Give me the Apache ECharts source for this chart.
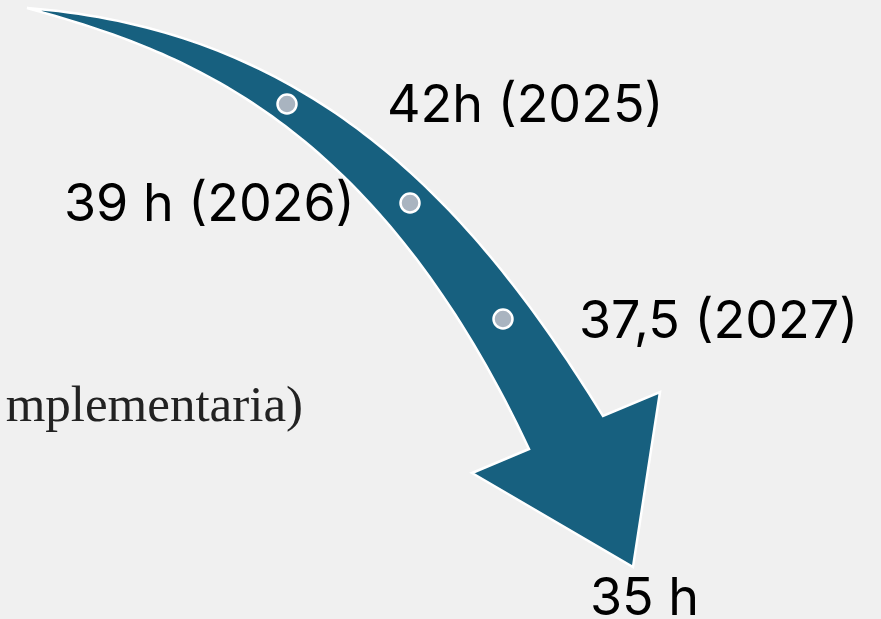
<!DOCTYPE html>
<html>
<head>
<meta charset="utf-8">
<script src="https://cdn.jsdelivr.net/npm/echarts@6/dist/echarts.min.js"></script>
<style>
  html, body { margin: 0; padding: 0; background: #f0f0f0; }
  #chart { width: 881px; height: 619px; }
</style>
</head>
<body>
<div id="chart"></div>
<script>
// ---- data ----
const hours = [42, 39, 37.5, 35];
const years = ['2025', '2026', '2027', ''];
const labels = ['42h (2025)', '39 h (2026)', '37,5 (2027)', '35 h'];
const sideNote = 'mplementaria)';

// ---- layout (pixel space of an invisible 881x619 grid) ----
const dotAnchors = [[287, 104], [410, 203], [503, 319]];
const labelPos = [[387, 121], [64, 220], [579, 337], [590, 614]];
// cubic bezier edges: [start, ctrl1, ctrl2, end]
const upperEdge = [[27, 8], [310, 30], [470, 200], [603, 416]];
const lowerEdge = [[529, 449], [370, 110], [170, 48], [27, 8]];
const head = [[660, 392], [633, 567], [472, 473]];

function bezier(b, steps) {
  const out = [];
  for (let s = 0; s <= steps; s++) {
    const t = s / steps, u = 1 - t;
    const k = [u*u*u, 3*u*u*t, 3*u*t*t, t*t*t];
    out.push([
      k[0]*b[0][0] + k[1]*b[1][0] + k[2]*b[2][0] + k[3]*b[3][0],
      k[0]*b[0][1] + k[1]*b[1][1] + k[2]*b[2][1] + k[3]*b[3][1]
    ]);
  }
  return out;
}
const arrowOutline = [].concat(bezier(upperEdge, 80), head, bezier(lowerEdge, 80).slice(0, -1));

const chart = echarts.init(document.getElementById('chart'));
const FS = 52;
const textStyle = { fontFamily: 'Inter', fontSize: FS, fill: '#000' };
chart.setOption({
  backgroundColor: '#f0f0f0',
  animation: false,
  grid: { left: 0, right: 0, top: 0, bottom: 0 },
  xAxis: { type: 'value', min: 0, max: 881, show: false },
  yAxis: { type: 'value', min: 0, max: 619, inverse: true, show: false },
  series: [
    {
      type: 'custom',
      data: [[0, 0]],
      renderItem: function (params, api) {
        return {
          type: 'polygon',
          shape: { points: arrowOutline.map(p => api.coord(p)) },
          style: { fill: '#17607f', stroke: '#ffffff', lineWidth: 2.5, lineJoin: 'miter' }
        };
      },
      z: 1
    },
    {
      type: 'scatter',
      data: dotAnchors.map((p, i) => [p[0], p[1], hours[i], years[i]]),
      symbol: 'circle',
      symbolSize: 19,
      itemStyle: { color: '#a9b4c0', borderColor: '#ffffff', borderWidth: 2.5, opacity: 1 },
      z: 3
    }
  ],
  graphic: labels.map((t, i) => ({
    type: 'text',
    left: labelPos[i][0],
    top: labelPos[i][1] - Math.round(FS * 0.79),
    style: Object.assign({ text: t }, textStyle),
    z: 5
  })).concat([{
    type: 'text',
    right: 881 - 303,
    top: 425 - 43,
    style: { text: sideNote, fontFamily: 'Liberation Serif', fontSize: 51, fill: '#222' },
    z: 5
  }])
});
</script>
</body>
</html>
